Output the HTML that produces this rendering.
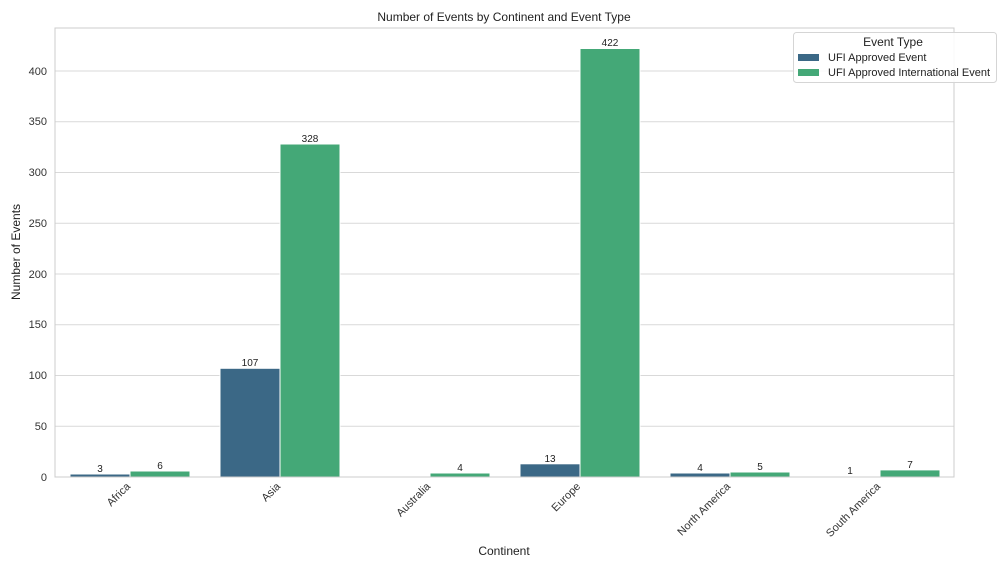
<!DOCTYPE html>
<html><head><meta charset="utf-8"><style>body{margin:0;background:#fff}svg{display:block;font-family:"Liberation Sans",sans-serif}</style></head>
<body>
<svg width="1000" height="571" viewBox="0 0 1000 571">
<rect width="1000" height="571" fill="#fff"/>
<g stroke="#d9d9d9" stroke-width="1">
<line x1="55" x2="954" y1="426.2" y2="426.2"/>
<line x1="55" x2="954" y1="375.5" y2="375.5"/>
<line x1="55" x2="954" y1="324.7" y2="324.7"/>
<line x1="55" x2="954" y1="274" y2="274"/>
<line x1="55" x2="954" y1="223.2" y2="223.2"/>
<line x1="55" x2="954" y1="172.5" y2="172.5"/>
<line x1="55" x2="954" y1="121.7" y2="121.7"/>
<line x1="55" x2="954" y1="71" y2="71"/>
</g>
<g font-size="11" fill="#333" text-anchor="end">
<text x="47" y="481">0</text><text x="47" y="430">50</text><text x="47" y="379">100</text><text x="47" y="328">150</text><text x="47" y="278">200</text><text x="47" y="227">250</text><text x="47" y="176">300</text><text x="47" y="125">350</text><text x="47" y="75">400</text>
</g>
<g stroke="#fff" stroke-width="1">
<rect x="70" y="474" width="60" height="3" fill="#3b6886"/>
<rect x="130" y="471" width="60" height="6" fill="#44a877"/>
<rect x="220" y="368.3" width="60" height="108.7" fill="#3b6886"/>
<rect x="280" y="144" width="60" height="333" fill="#44a877"/>
<rect x="430" y="473" width="60" height="4" fill="#44a877"/>
<rect x="520" y="463.8" width="60" height="13.2" fill="#3b6886"/>
<rect x="580" y="48.5" width="60" height="428.5" fill="#44a877"/>
<rect x="670" y="473" width="60" height="4" fill="#3b6886"/>
<rect x="730" y="472" width="60" height="5" fill="#44a877"/>
<rect x="820" y="476" width="60" height="1" fill="#3b6886"/>
<rect x="880" y="469.9" width="60" height="7.1" fill="#44a877"/>
</g>
<rect x="55" y="28" width="899" height="449" fill="none" stroke="#cccccc" stroke-width="1"/>
<g font-size="10" fill="#222" text-anchor="middle">
<text x="100" y="472">3</text><text x="160" y="469">6</text>
<text x="250" y="366">107</text><text x="310" y="142">328</text>
<text x="460" y="471">4</text>
<text x="550" y="462">13</text><text x="610" y="46">422</text>
<text x="700" y="471">4</text><text x="760" y="470">5</text>
<text x="850" y="474">1</text><text x="910" y="468">7</text>
</g>
<g font-size="11" fill="#333" text-anchor="end">
<text transform="translate(131,487) rotate(-45)">Africa</text>
<text transform="translate(281,487) rotate(-45)">Asia</text>
<text transform="translate(431,487) rotate(-45)">Australia</text>
<text transform="translate(581,487) rotate(-45)">Europe</text>
<text transform="translate(731,487) rotate(-45)">North America</text>
<text transform="translate(881,487) rotate(-45)">South America</text>
</g>
<text x="504" y="555" font-size="12" fill="#222" text-anchor="middle">Continent</text>
<text transform="translate(20,252) rotate(-90)" font-size="12" fill="#222" text-anchor="middle">Number of Events</text>
<text x="504" y="21" font-size="12" fill="#222" text-anchor="middle">Number of Events by Continent and Event Type</text>
<rect x="793.5" y="32.5" width="203" height="50" rx="3" fill="#fff" fill-opacity="0.85" stroke="#d5d5d5"/>
<text x="893" y="46" font-size="12" fill="#222" text-anchor="middle">Event Type</text>
<rect x="798" y="54" width="21" height="7" fill="#3b6886"/>
<text x="828" y="61" font-size="11" fill="#222">UFI Approved Event</text>
<rect x="798" y="69" width="21" height="7" fill="#44a877"/>
<text x="828" y="76" font-size="11" fill="#222">UFI Approved International Event</text>
</svg>
</body></html>
